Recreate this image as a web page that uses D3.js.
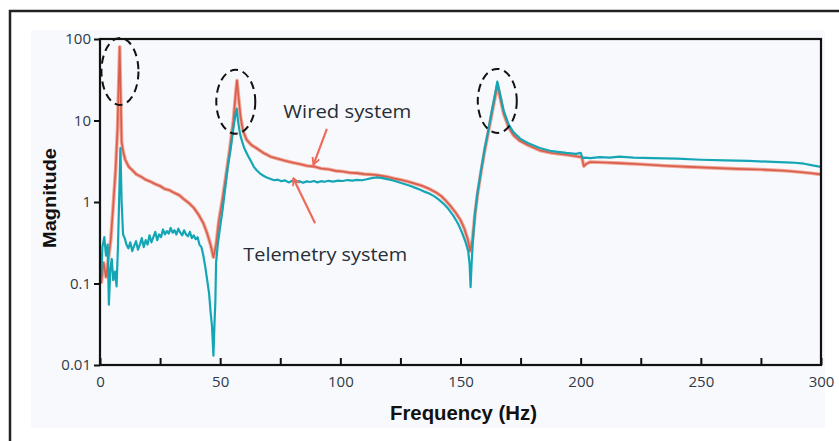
<!DOCTYPE html>
<html>
<head>
<meta charset="utf-8">
<script src="https://cdn.jsdelivr.net/npm/d3@7"></script>
<style>
  body { margin: 0; background: #fff; }
  svg { display: block; }
</style>
</head>
<body>
<svg width="839" height="441"></svg>
<script>
// wired system (hand)
var wiredFreq = [0.5,1.5,2.5,3.5,4.5,5.5,6.5,7.3,7.8,8.2,8.6,9.0,9.6,10.5,12,13.5,15,17,19,21,23,25,27,29,31,33,35,37,39,41,43,44.5,46,47.2,48.3,49.5,51,52.5,54,55.5,56.5,57,57.6,58.5,59.5,61,63,65,68,71,74,77,80,83,86,89,92,95,98,101,104,107,110,113,116,119,122,125,128,131,134,137,140,142,144,146,148,150,151.5,153,154,155,156,157,158.5,160,161.5,163,164.5,165.4,166.5,168,170,172,174.8,178,183,188,194,198,200.5,201.3,202.5,204,210,216,225,235,245,255,265,275,285,292,296,300];
var wiredMag = [0.1,0.18,0.12,0.2,0.35,0.9,2.5,8,30,80,20,5.5,4.2,3.3,2.7,2.45,2.2,2.05,1.88,1.78,1.66,1.57,1.44,1.39,1.29,1.21,1.08,0.97,0.85,0.7,0.55,0.42,0.3,0.21,0.3,0.6,1.1,2.2,4.5,10,22,31,20,11,7.5,5.8,5,4.6,4.0,3.6,3.4,3.2,3.05,2.92,2.78,2.72,2.58,2.52,2.41,2.37,2.29,2.26,2.2,2.17,2.12,2.05,1.95,1.87,1.78,1.68,1.58,1.45,1.3,1.18,1.03,0.88,0.74,0.6,0.48,0.35,0.25,0.35,0.7,1.2,2.3,4.2,7,12,20,27,19,12,8.3,6.6,5.6,5,4.3,4.0,3.8,3.65,3.55,2.75,2.95,3.1,3.05,3.0,2.9,2.78,2.7,2.62,2.55,2.5,2.42,2.32,2.25,2.18];

// telemetry system
var teleFreq = [0.5,1,1.8,2.5,3.2,3.7,4.3,4.9,5.5,6.2,6.9,7.5,8.0,8.5,9.0,9.6,10.3,11,11.8,12.6,13.4,14.2,15,15.8,16.6,17.4,18.2,19,19.8,20.6,21.4,22.2,23,23.8,24.6,25.4,26.2,27,27.8,28.6,29.4,30.2,31,31.8,32.6,33.4,34.2,35,35.8,36.6,37.4,38.2,39,39.8,40.6,41.4,42.2,43,43.8,44.6,45.4,46,46.6,47.2,47.6,48,48.3,49,50,51,52,53.2,54.5,55.5,56.4,56.9,57.4,58.2,59,60,61,62,63,64,65.2,66.5,68,69.4,71,72.5,74,75.5,77,78.5,80,81.5,83,84.5,86,87.5,89,90.5,92,93.5,95,97,99,101,103,105,107,109,111,113,115,117,119,121,123,125,127,129,131,133,135,137,139,141,143,145,147,149,150.5,152,153.2,153.8,154.2,154.6,155.2,156,157,158.5,160,161.5,163,164.5,165.3,166.5,168,170,172,174.8,178,183,188,194,198,200,200.8,202,204,208,212,216,222,230,240,250,260,270,280,288,293,297,300];
var teleMag = [0.12,0.28,0.37,0.22,0.3,0.055,0.15,0.2,0.11,0.14,0.092,0.3,1.2,4.6,1.0,0.4,0.36,0.3,0.27,0.32,0.25,0.29,0.33,0.26,0.3,0.36,0.28,0.34,0.3,0.39,0.32,0.37,0.43,0.34,0.4,0.37,0.46,0.4,0.44,0.41,0.48,0.42,0.45,0.4,0.47,0.42,0.39,0.45,0.4,0.38,0.43,0.36,0.39,0.35,0.37,0.3,0.28,0.22,0.16,0.11,0.075,0.045,0.03,0.013,0.03,0.06,0.18,0.3,0.5,0.8,1.4,2.7,4.8,8,12,14,10,7,5.7,4.6,4.0,3.5,3.1,2.7,2.45,2.25,2.1,2.0,1.92,1.85,1.88,1.8,1.84,1.74,1.82,1.77,1.8,1.72,1.79,1.76,1.81,1.74,1.8,1.77,1.82,1.78,1.83,1.81,1.86,1.83,1.87,1.85,1.9,1.96,2.0,1.98,1.92,1.86,1.8,1.72,1.65,1.58,1.5,1.42,1.34,1.27,1.18,1.07,0.95,0.82,0.68,0.54,0.43,0.33,0.25,0.17,0.09,0.17,0.35,0.7,1.25,2.4,4.4,7.4,13,22,30,21,13,9,7.2,6,5.3,4.6,4.2,4.0,3.9,4.0,3.45,3.5,3.45,3.55,3.5,3.6,3.5,3.45,3.4,3.3,3.25,3.2,3.1,3.05,2.95,2.8,2.7];

var xTicks = [0,25,50,75,100,125,150,175,200,225,250,275,300];
var yTicks = [0.01,0.1,1,10,100];
var yTickLabels = ["0.01","0.1","1","10","100"];

// dashed circles round the resonance peaks
var peakFreq = [8.3,56.5,165.3];
var peakMag = [40,17,17.4];

// annotations: label, text anchor (freq, mag), arrow start and head
var noteText = ["Wired system","Telemetry system"];
var noteWidth = [128,164];
var noteFreq = [76.3,59.6];
var noteMag = [10.7,0.19];
var arrowFrom = [[94.4,7.9],[89.5,0.55]];
var arrowTo = [[88.8,2.85],[80.4,1.96]];

var svg = d3.select('svg');
var plotL = 100, plotR = 821, plotT = 39, plotB = 365;

var x = d3.scaleLinear().domain([0,300]).range([plotL,plotR]);
var y = d3.scaleLog().domain([0.01,100]).range([plotB,plotT]);

// outer frame and pasted-figure background
svg.append('rect').attr('x',31).attr('y',30).attr('width',794).attr('height',398).attr('fill','#f8f9fc');
svg.append('rect').attr('x',10).attr('y',11).attr('width',860).attr('height',460)
  .attr('fill','none').attr('stroke','#222').attr('stroke-width',2.5);

var line = d3.line()
  .x(function(d){ return x(d[0]); })
  .y(function(d){ return y(d[1]); });

var wired = wiredFreq.map(function(f,i){ return [f, wiredMag[i]]; });
var tele = teleFreq.map(function(f,i){ return [f, teleMag[i]]; });

svg.append('path').datum(wired).attr('d',line)
  .attr('fill','none').attr('stroke','#f2a497').attr('stroke-width',3.6).attr('stroke-linejoin','round');
svg.append('path').datum(wired).attr('d',line)
  .attr('fill','none').attr('stroke','#d65e4b').attr('stroke-width',1.6).attr('stroke-linejoin','round');
svg.append('path').datum(tele).attr('d',line)
  .attr('fill','none').attr('stroke','#15a6b6').attr('stroke-width',2.2).attr('stroke-linejoin','round');

// axes
var xAxis = d3.axisBottom(x).tickValues(xTicks).tickSizeInner(-7).tickSizeOuter(0).tickPadding(11)
  .tickFormat(function(d){ return d % 50 === 0 ? d : ''; });
var gx = svg.append('g').attr('transform','translate(0,' + plotB + ')').call(xAxis);

var yAxis = d3.axisLeft(y).tickValues(yTicks).tickSizeInner(6).tickSizeOuter(0).tickPadding(3)
  .tickFormat(function(d,i){ return yTickLabels[i]; });
var gy = svg.append('g').attr('transform','translate(' + plotL + ',0)').call(yAxis);

[gx, gy].forEach(function(g){
  g.select('.domain').remove();
  g.selectAll('.tick line').attr('stroke','#111').attr('stroke-width',2);
  g.selectAll('.tick text').attr('fill','#2f3a48')
    .style('font-family','"Open Sans", sans-serif').style('font-size','15px');
});

svg.append('rect').attr('x',plotL).attr('y',plotT).attr('width',plotR-plotL).attr('height',plotB-plotT)
  .attr('fill','none').attr('stroke','#111').attr('stroke-width',2.2);

// dashed ellipses
svg.selectAll('ellipse.peak').data(peakFreq).enter().append('ellipse')
  .attr('cx', function(d){ return x(d); })
  .attr('cy', function(d,i){ return y(peakMag[i]); })
  .attr('rx', function(d,i){ return i === 0 ? 18.5 : 19.5; })
  .attr('ry', function(d,i){ return i === 0 ? 33.5 : 32; })
  .attr('fill','none').attr('stroke','#111').attr('stroke-width',2).attr('stroke-dasharray','8,5');

// arrows
svg.append('defs').append('marker').attr('id','head')
  .attr('viewBox','0 0 10 10').attr('refX',9).attr('refY',5)
  .attr('markerWidth',9).attr('markerHeight',9).attr('orient','auto').attr('markerUnits','userSpaceOnUse')
  .append('path').attr('d','M1,1 L9,5 L1,9').attr('fill','none').attr('stroke','#ee6a5a').attr('stroke-width',2);

arrowFrom.forEach(function(a,i){
  svg.append('line')
    .attr('x1',x(a[0])).attr('y1',y(a[1]))
    .attr('x2',x(arrowTo[i][0])).attr('y2',y(arrowTo[i][1]))
    .attr('stroke','#ee6a5a').attr('stroke-width',2.2).attr('marker-end','url(#head)');
});

svg.selectAll('text.note').data(noteText).enter().append('text')
  .attr('class','note')
  .attr('x', function(d,i){ return x(noteFreq[i]); })
  .attr('y', function(d,i){ return y(noteMag[i]); })
  .attr('textLength', function(d,i){ return noteWidth[i]; })
  .attr('lengthAdjust','spacingAndGlyphs')
  .attr('fill','#262d36')
  .style('font-family','"Open Sans", sans-serif').style('font-size','19px')
  .text(function(d){ return d; });

// axis titles
svg.append('text').attr('x',(plotL+plotR)/2 + 3).attr('y',420).attr('text-anchor','middle')
  .attr('textLength',147).attr('lengthAdjust','spacingAndGlyphs')
  .attr('fill','#111').style('font-family','"Liberation Sans", Arial, sans-serif')
  .style('font-size','20px').style('font-weight','bold').text('Frequency (Hz)');
svg.append('text').attr('transform','translate(56,' + ((plotT+plotB)/2 - 4) + ') rotate(-90)')
  .attr('text-anchor','middle').attr('textLength',100).attr('lengthAdjust','spacingAndGlyphs')
  .attr('fill','#111')
  .style('font-family','"Liberation Sans", Arial, sans-serif')
  .style('font-size','18px').style('font-weight','bold').text('Magnitude');
</script>
</body>
</html>
